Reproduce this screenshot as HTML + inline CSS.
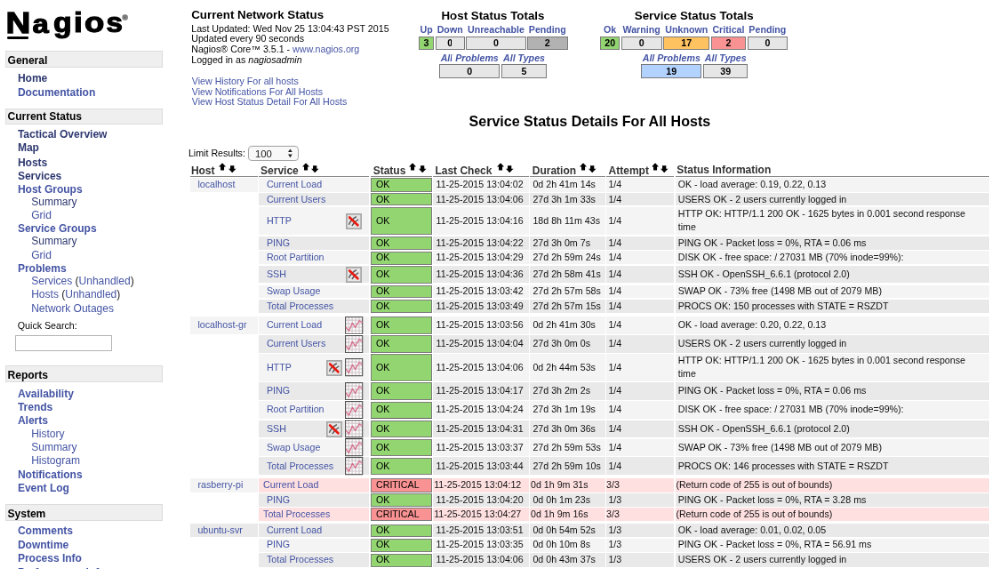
<!DOCTYPE html>
<html><head><meta charset="utf-8"><title>Nagios Core</title>
<style>
html,body{margin:0;padding:0;background:#fff;width:992px;height:569px;overflow:hidden;}
body{position:relative;font-family:"Liberation Sans",sans-serif;}
.t{position:absolute;white-space:nowrap;}
.r{position:absolute;}
.r svg{display:block}
.c{position:absolute;display:flex;align-items:center;white-space:nowrap;font-size:9.481px;line-height:13.600px;}
#w{position:absolute;left:0;top:0;width:1116.00px;height:640.12px;will-change:transform;transform-origin:0 0;transform:scale(0.888889);overflow:hidden;}
#v{position:absolute;left:0;top:0;width:992px;height:569px;zoom:1.125;overflow:hidden;}
</style></head><body><div id="w"><div id="v">
<div class="r" style="white-space:nowrap;left:0;top:0;font-size:100px;line-height:100px;font-weight:bold;color:#000;-webkit-text-stroke:4px #000;transform-origin:0 0;transform:matrix(0.3419,0,0,0.2945,5.690,7.577)">N</div>
<div class="r" style="white-space:nowrap;left:0;top:0;font-size:100px;line-height:100px;font-weight:bold;color:#000;-webkit-text-stroke:4px #000;transform-origin:0 0;transform:matrix(0.2912,0,0,0.2695,32.509,9.885)">a</div>
<div class="r" style="white-space:nowrap;left:0;top:0;font-size:100px;line-height:100px;font-weight:bold;color:#000;-webkit-text-stroke:4px #000;transform-origin:0 0;transform:matrix(0.3000,0,0,0.2759,53.400,9.097)">g</div>
<div class="r" style="white-space:nowrap;left:0;top:0;font-size:100px;line-height:100px;font-weight:bold;color:#000;-webkit-text-stroke:4px #000;transform-origin:0 0;transform:matrix(0.3111,0,0,0.2753,73.844,8.847)">i</div>
<div class="r" style="white-space:nowrap;left:0;top:0;font-size:100px;line-height:100px;font-weight:bold;color:#000;-webkit-text-stroke:4px #000;transform-origin:0 0;transform:matrix(0.3246,0,0,0.2780,84.451,8.939)">o</div>
<div class="r" style="white-space:nowrap;left:0;top:0;font-size:100px;line-height:100px;font-weight:bold;color:#000;-webkit-text-stroke:4px #000;transform-origin:0 0;transform:matrix(0.2942,0,0,0.2729,106.206,9.186)">s</div>
<div class="r" style="left:7.20px;top:36.60px;width:21.10px;height:2.30px;background:#000;border-radius:1.2px;"></div>
<svg class="r" style="left:121.4px;top:13.9px" width="6.4" height="6.2" viewBox="0 0 6.4 6.2"><circle cx="3.2" cy="3.1" r="2.9" fill="#707070"/><circle cx="3.2" cy="3.1" r="2.1" fill="#a8a8a8"/><path d="M2.3 4.6 V1.7 H3.6 Q4.4 1.7 4.4 2.5 Q4.4 3.2 3.6 3.2 H2.3 M3.4 3.2 L4.4 4.6" stroke="#555" stroke-width="0.7" fill="none"/></svg>
<div class="r" style="left:5.00px;top:51.10px;width:158.00px;height:16.80px;background:#efefef;border:1px solid #dcdcdc;box-sizing:border-box;"></div>
<div class="t" style="left:7.60px;top:53.90px;font-size:10.667px;line-height:12.800px;font-weight:bold;color:#000;font-style:normal;">General</div>
<div class="t" style="left:17.70px;top:72.00px;font-size:10.667px;line-height:12.800px;font-weight:bold;color:#2e3870;font-style:normal;">Home</div>
<div class="t" style="left:17.70px;top:86.20px;font-size:10.667px;line-height:12.800px;font-weight:bold;color:#4454a4;font-style:normal;">Documentation</div>
<div class="r" style="left:5.00px;top:108.20px;width:158.00px;height:16.40px;background:#efefef;border:1px solid #dcdcdc;box-sizing:border-box;"></div>
<div class="t" style="left:7.60px;top:110.60px;font-size:10.667px;line-height:12.800px;font-weight:bold;color:#000;font-style:normal;">Current Status</div>
<div class="t" style="left:17.70px;top:128.00px;font-size:10.667px;line-height:12.800px;font-weight:bold;color:#2e3870;font-style:normal;">Tactical Overview</div>
<div class="t" style="left:17.70px;top:141.60px;font-size:10.667px;line-height:12.800px;font-weight:bold;color:#2e3870;font-style:normal;">Map</div>
<div class="t" style="left:17.70px;top:156.00px;font-size:10.667px;line-height:12.800px;font-weight:bold;color:#2e3870;font-style:normal;">Hosts</div>
<div class="t" style="left:17.70px;top:169.60px;font-size:10.667px;line-height:12.800px;font-weight:bold;color:#2e3870;font-style:normal;">Services</div>
<div class="t" style="left:17.70px;top:183.30px;font-size:10.667px;line-height:12.800px;font-weight:bold;color:#4454a4;font-style:normal;">Host Groups</div>
<div class="t" style="left:31.30px;top:195.50px;font-size:10.667px;line-height:12.800px;font-weight:normal;color:#2e3870;font-style:normal;">Summary</div>
<div class="t" style="left:31.30px;top:209.00px;font-size:10.667px;line-height:12.800px;font-weight:normal;color:#4454a4;font-style:normal;">Grid</div>
<div class="t" style="left:17.70px;top:222.20px;font-size:10.667px;line-height:12.800px;font-weight:bold;color:#4454a4;font-style:normal;">Service Groups</div>
<div class="t" style="left:31.30px;top:234.90px;font-size:10.667px;line-height:12.800px;font-weight:normal;color:#2e3870;font-style:normal;">Summary</div>
<div class="t" style="left:31.30px;top:248.60px;font-size:10.667px;line-height:12.800px;font-weight:normal;color:#4454a4;font-style:normal;">Grid</div>
<div class="t" style="left:17.70px;top:262.10px;font-size:10.667px;line-height:12.800px;font-weight:bold;color:#4454a4;font-style:normal;">Problems</div>
<div class="t" style="left:31.30px;top:274.80px;font-size:10.667px;line-height:12.800px;font-weight:normal;color:#4454a4;font-style:normal;">Services <span style="color:#222">(</span>Unhandled<span style="color:#222">)</span></div>
<div class="t" style="left:31.30px;top:288.10px;font-size:10.667px;line-height:12.800px;font-weight:normal;color:#4454a4;font-style:normal;">Hosts <span style="color:#222">(</span>Unhandled<span style="color:#222">)</span></div>
<div class="t" style="left:31.30px;top:302.40px;font-size:10.667px;line-height:12.800px;font-weight:normal;color:#4454a4;font-style:normal;">Network Outages</div>
<div class="t" style="left:17.60px;top:320.13px;font-size:9.481px;line-height:11.377px;font-weight:normal;color:#000;font-style:normal;">Quick Search:</div>
<div class="r" style="left:15.30px;top:335.30px;width:96.30px;height:15.40px;background:#fff;border:1px solid #b4b4b4;box-sizing:border-box;"></div>
<div class="r" style="left:5.00px;top:365.50px;width:158.00px;height:17.10px;background:#efefef;border:1px solid #dcdcdc;box-sizing:border-box;"></div>
<div class="t" style="left:7.60px;top:368.70px;font-size:10.667px;line-height:12.800px;font-weight:bold;color:#000;font-style:normal;">Reports</div>
<div class="t" style="left:17.70px;top:387.80px;font-size:10.667px;line-height:12.800px;font-weight:bold;color:#4454a4;font-style:normal;">Availability</div>
<div class="t" style="left:17.70px;top:401.20px;font-size:10.667px;line-height:12.800px;font-weight:bold;color:#4454a4;font-style:normal;">Trends</div>
<div class="t" style="left:17.70px;top:414.10px;font-size:10.667px;line-height:12.800px;font-weight:bold;color:#4454a4;font-style:normal;">Alerts</div>
<div class="t" style="left:31.30px;top:427.20px;font-size:10.667px;line-height:12.800px;font-weight:normal;color:#4454a4;font-style:normal;">History</div>
<div class="t" style="left:31.30px;top:440.50px;font-size:10.667px;line-height:12.800px;font-weight:normal;color:#4454a4;font-style:normal;">Summary</div>
<div class="t" style="left:31.30px;top:454.40px;font-size:10.667px;line-height:12.800px;font-weight:normal;color:#4454a4;font-style:normal;">Histogram</div>
<div class="t" style="left:17.70px;top:468.30px;font-size:10.667px;line-height:12.800px;font-weight:bold;color:#4454a4;font-style:normal;">Notifications</div>
<div class="t" style="left:17.70px;top:482.10px;font-size:10.667px;line-height:12.800px;font-weight:bold;color:#4454a4;font-style:normal;">Event Log</div>
<div class="r" style="left:5.00px;top:503.90px;width:158.00px;height:16.70px;background:#efefef;border:1px solid #dcdcdc;box-sizing:border-box;"></div>
<div class="t" style="left:7.60px;top:507.30px;font-size:10.667px;line-height:12.800px;font-weight:bold;color:#000;font-style:normal;">System</div>
<div class="t" style="left:17.70px;top:524.30px;font-size:10.667px;line-height:12.800px;font-weight:bold;color:#4454a4;font-style:normal;">Comments</div>
<div class="t" style="left:17.70px;top:538.30px;font-size:10.667px;line-height:12.800px;font-weight:bold;color:#4454a4;font-style:normal;">Downtime</div>
<div class="t" style="left:17.70px;top:552.30px;font-size:10.667px;line-height:12.800px;font-weight:bold;color:#4454a4;font-style:normal;">Process Info</div>
<div class="t" style="left:17.70px;top:566.30px;font-size:10.667px;line-height:12.800px;font-weight:bold;color:#4454a4;font-style:normal;">Performance Info</div>
<div class="t" style="left:191.30px;top:8.38px;font-size:11.852px;line-height:14.222px;font-weight:bold;color:#000;font-style:normal;">Current Network Status</div>
<div class="t" style="left:191.30px;top:22.93px;font-size:9.481px;line-height:11.377px;font-weight:normal;color:#000;font-style:normal;">Last Updated: Wed Nov 25 13:04:43 PST 2015</div>
<div class="t" style="left:191.30px;top:33.33px;font-size:9.481px;line-height:11.377px;font-weight:normal;color:#000;font-style:normal;">Updated every 90 seconds</div>
<div class="t" style="left:191.30px;top:43.73px;font-size:9.481px;line-height:11.377px;font-weight:normal;color:#000;font-style:normal;">Nagios&reg; Core&trade; 3.5.1 - <span style="color:#4454a4">www.nagios.org</span></div>
<div class="t" style="left:191.30px;top:54.13px;font-size:9.481px;line-height:11.377px;font-weight:normal;color:#000;font-style:normal;">Logged in as <i>nagiosadmin</i></div>
<div class="t" style="left:191.80px;top:75.63px;font-size:9.481px;line-height:11.377px;font-weight:normal;color:#4454a4;font-style:normal;">View History For all hosts</div>
<div class="t" style="left:191.80px;top:86.03px;font-size:9.481px;line-height:11.377px;font-weight:normal;color:#4454a4;font-style:normal;">View Notifications For All Hosts</div>
<div class="t" style="left:191.80px;top:96.43px;font-size:9.481px;line-height:11.377px;font-weight:normal;color:#4454a4;font-style:normal;">View Host Status Detail For All Hosts</div>
<div class="t" style="left:441.30px;top:8.68px;font-size:11.852px;line-height:14.222px;font-weight:bold;color:#000;font-style:normal;">Host Status Totals</div>
<div class="t" style="left:419.00px;top:23.83px;width:14.60px;text-align:center;font-size:9.481px;line-height:11.377px;font-weight:bold;color:#4454a4;font-style:normal">Up</div>
<div class="r" style="left:419.00px;top:36.00px;width:14.60px;height:13.70px;background:#93d571;border:1px solid #7a7a7a;box-sizing:border-box;"></div>
<div class="t" style="left:419.00px;top:37.33px;width:14.60px;text-align:center;font-size:9.481px;line-height:11.377px;font-weight:bold;color:#000;font-style:normal">3</div>
<div class="t" style="left:435.20px;top:23.83px;width:29.50px;text-align:center;font-size:9.481px;line-height:11.377px;font-weight:bold;color:#4454a4;font-style:normal">Down</div>
<div class="r" style="left:435.20px;top:36.00px;width:29.50px;height:13.70px;background:#e6e6e6;border:1px solid #7a7a7a;box-sizing:border-box;"></div>
<div class="t" style="left:435.20px;top:37.33px;width:29.50px;text-align:center;font-size:9.481px;line-height:11.377px;font-weight:bold;color:#000;font-style:normal">0</div>
<div class="t" style="left:466.00px;top:23.83px;width:59.90px;text-align:center;font-size:9.481px;line-height:11.377px;font-weight:bold;color:#4454a4;font-style:normal">Unreachable</div>
<div class="r" style="left:466.00px;top:36.00px;width:59.90px;height:13.70px;background:#e6e6e6;border:1px solid #7a7a7a;box-sizing:border-box;"></div>
<div class="t" style="left:466.00px;top:37.33px;width:59.90px;text-align:center;font-size:9.481px;line-height:11.377px;font-weight:bold;color:#000;font-style:normal">0</div>
<div class="t" style="left:527.10px;top:23.83px;width:40.60px;text-align:center;font-size:9.481px;line-height:11.377px;font-weight:bold;color:#4454a4;font-style:normal">Pending</div>
<div class="r" style="left:527.10px;top:36.00px;width:40.60px;height:13.70px;background:#b2b2b2;border:1px solid #7a7a7a;box-sizing:border-box;"></div>
<div class="t" style="left:527.10px;top:37.33px;width:40.60px;text-align:center;font-size:9.481px;line-height:11.377px;font-weight:bold;color:#000;font-style:normal">2</div>
<div class="t" style="left:439.30px;top:52.23px;width:60.50px;text-align:center;font-size:9.481px;line-height:11.377px;font-weight:bold;color:#4454a4;font-style:italic">All Problems</div>
<div class="r" style="left:439.30px;top:64.40px;width:60.50px;height:14.00px;background:#e6e6e6;border:1px solid #7a7a7a;box-sizing:border-box;"></div>
<div class="t" style="left:439.30px;top:66.03px;width:60.50px;text-align:center;font-size:9.481px;line-height:11.377px;font-weight:bold;color:#000;font-style:normal">0</div>
<div class="t" style="left:501.10px;top:52.23px;width:45.80px;text-align:center;font-size:9.481px;line-height:11.377px;font-weight:bold;color:#4454a4;font-style:italic">All Types</div>
<div class="r" style="left:501.10px;top:64.40px;width:45.80px;height:14.00px;background:#e6e6e6;border:1px solid #7a7a7a;box-sizing:border-box;"></div>
<div class="t" style="left:501.10px;top:66.03px;width:45.80px;text-align:center;font-size:9.481px;line-height:11.377px;font-weight:bold;color:#000;font-style:normal">5</div>
<div class="t" style="left:634.50px;top:8.68px;font-size:11.852px;line-height:14.222px;font-weight:bold;color:#000;font-style:normal;">Service Status Totals</div>
<div class="t" style="left:600.30px;top:23.83px;width:19.30px;text-align:center;font-size:9.481px;line-height:11.377px;font-weight:bold;color:#4454a4;font-style:normal">Ok</div>
<div class="r" style="left:600.30px;top:36.00px;width:19.30px;height:13.70px;background:#93d571;border:1px solid #7a7a7a;box-sizing:border-box;"></div>
<div class="t" style="left:600.30px;top:37.33px;width:19.30px;text-align:center;font-size:9.481px;line-height:11.377px;font-weight:bold;color:#000;font-style:normal">20</div>
<div class="t" style="left:621.10px;top:23.83px;width:40.70px;text-align:center;font-size:9.481px;line-height:11.377px;font-weight:bold;color:#4454a4;font-style:normal">Warning</div>
<div class="r" style="left:621.10px;top:36.00px;width:40.70px;height:13.70px;background:#e6e6e6;border:1px solid #7a7a7a;box-sizing:border-box;"></div>
<div class="t" style="left:621.10px;top:37.33px;width:40.70px;text-align:center;font-size:9.481px;line-height:11.377px;font-weight:bold;color:#000;font-style:normal">0</div>
<div class="t" style="left:663.50px;top:23.83px;width:45.90px;text-align:center;font-size:9.481px;line-height:11.377px;font-weight:bold;color:#4454a4;font-style:normal">Unknown</div>
<div class="r" style="left:663.50px;top:36.00px;width:45.90px;height:13.70px;background:#ffc261;border:1px solid #7a7a7a;box-sizing:border-box;"></div>
<div class="t" style="left:663.50px;top:37.33px;width:45.90px;text-align:center;font-size:9.481px;line-height:11.377px;font-weight:bold;color:#000;font-style:normal">17</div>
<div class="t" style="left:711.10px;top:23.83px;width:34.60px;text-align:center;font-size:9.481px;line-height:11.377px;font-weight:bold;color:#4454a4;font-style:normal">Critical</div>
<div class="r" style="left:711.10px;top:36.00px;width:34.60px;height:13.70px;background:#f99292;border:1px solid #7a7a7a;box-sizing:border-box;"></div>
<div class="t" style="left:711.10px;top:37.33px;width:34.60px;text-align:center;font-size:9.481px;line-height:11.377px;font-weight:bold;color:#000;font-style:normal">2</div>
<div class="t" style="left:747.20px;top:23.83px;width:40.50px;text-align:center;font-size:9.481px;line-height:11.377px;font-weight:bold;color:#4454a4;font-style:normal">Pending</div>
<div class="r" style="left:747.20px;top:36.00px;width:40.50px;height:13.70px;background:#e6e6e6;border:1px solid #7a7a7a;box-sizing:border-box;"></div>
<div class="t" style="left:747.20px;top:37.33px;width:40.50px;text-align:center;font-size:9.481px;line-height:11.377px;font-weight:bold;color:#000;font-style:normal">0</div>
<div class="t" style="left:641.10px;top:52.23px;width:60.50px;text-align:center;font-size:9.481px;line-height:11.377px;font-weight:bold;color:#4454a4;font-style:italic">All Problems</div>
<div class="r" style="left:641.10px;top:64.40px;width:60.50px;height:14.00px;background:#b2d2ff;border:1px solid #7a7a7a;box-sizing:border-box;"></div>
<div class="t" style="left:641.10px;top:66.03px;width:60.50px;text-align:center;font-size:9.481px;line-height:11.377px;font-weight:bold;color:#000;font-style:normal">19</div>
<div class="t" style="left:703.30px;top:52.23px;width:44.50px;text-align:center;font-size:9.481px;line-height:11.377px;font-weight:bold;color:#4454a4;font-style:italic">All Types</div>
<div class="r" style="left:703.30px;top:64.40px;width:44.50px;height:14.00px;background:#e6e6e6;border:1px solid #7a7a7a;box-sizing:border-box;"></div>
<div class="t" style="left:703.30px;top:66.03px;width:44.50px;text-align:center;font-size:9.481px;line-height:11.377px;font-weight:bold;color:#000;font-style:normal">39</div>
<div class="t" style="left:468.90px;top:112.67px;font-size:14.293px;line-height:17.152px;font-weight:bold;color:#000;font-style:normal;">Service Status Details For All Hosts</div>
<div class="t" style="left:188.40px;top:147.78px;font-size:9.481px;line-height:11.377px;font-weight:normal;color:#000;font-style:normal;">Limit Results:</div>
<div class="r" style="left:248.10px;top:146.00px;width:50.60px;height:14.80px;background:#f8f8f8;border:1px solid #a8a8a8;box-sizing:border-box;border-radius:3.5px;"></div>
<div class="t" style="left:255.10px;top:148.16px;font-size:10.081px;line-height:12.097px;font-weight:normal;color:#222;font-style:normal;">100</div>
<svg class="r" style="left:287.5px;top:148.5px" width="6" height="10" viewBox="0 0 6 10"><path d="M0.9 3.6 L3 0.4 L5.1 3.6 Z M0.9 5.7 L3 9.2 L5.1 5.7 Z" fill="#222"/></svg>
<div class="t" style="left:191.00px;top:164.00px;font-size:10.667px;line-height:12.800px;font-weight:bold;color:#333;font-style:normal;">Host</div>
<div class="r" style="left:189.80px;top:175.90px;width:67.80px;height:1.10px;background:#8a8a8a;"></div>
<svg class="r" style="left:219.00px;top:162.6px" width="8" height="8" viewBox="0 0 8 8"><path d="M3.6 0.2 L7.2 4.0 L5.4 4.0 L5.4 7.6 L1.8 7.6 L1.8 4.0 L0 4.0 Z" fill="#000"/></svg>
<svg class="r" style="left:228.10px;top:165.2px" width="8" height="8" viewBox="0 0 8 8"><path d="M1.8 0.2 L5.6 0.2 L5.6 3.3 L7.6 3.3 L3.7 7.4 L0 3.3 L1.8 3.3 Z" fill="#000"/></svg>
<div class="t" style="left:260.50px;top:164.00px;font-size:10.667px;line-height:12.800px;font-weight:bold;color:#333;font-style:normal;">Service</div>
<div class="r" style="left:258.90px;top:175.90px;width:110.40px;height:1.10px;background:#8a8a8a;"></div>
<svg class="r" style="left:302.00px;top:162.6px" width="8" height="8" viewBox="0 0 8 8"><path d="M3.6 0.2 L7.2 4.0 L5.4 4.0 L5.4 7.6 L1.8 7.6 L1.8 4.0 L0 4.0 Z" fill="#000"/></svg>
<svg class="r" style="left:311.10px;top:165.2px" width="8" height="8" viewBox="0 0 8 8"><path d="M1.8 0.2 L5.6 0.2 L5.6 3.3 L7.6 3.3 L3.7 7.4 L0 3.3 L1.8 3.3 Z" fill="#000"/></svg>
<div class="t" style="left:373.00px;top:164.00px;font-size:10.667px;line-height:12.800px;font-weight:bold;color:#333;font-style:normal;">Status</div>
<div class="r" style="left:371.10px;top:175.90px;width:60.90px;height:1.10px;background:#8a8a8a;"></div>
<svg class="r" style="left:409.30px;top:162.6px" width="8" height="8" viewBox="0 0 8 8"><path d="M3.6 0.2 L7.2 4.0 L5.4 4.0 L5.4 7.6 L1.8 7.6 L1.8 4.0 L0 4.0 Z" fill="#000"/></svg>
<svg class="r" style="left:418.40px;top:165.2px" width="8" height="8" viewBox="0 0 8 8"><path d="M1.8 0.2 L5.6 0.2 L5.6 3.3 L7.6 3.3 L3.7 7.4 L0 3.3 L1.8 3.3 Z" fill="#000"/></svg>
<div class="t" style="left:435.00px;top:164.00px;font-size:10.667px;line-height:12.800px;font-weight:bold;color:#333;font-style:normal;">Last Check</div>
<div class="r" style="left:433.00px;top:175.90px;width:95.80px;height:1.10px;background:#8a8a8a;"></div>
<svg class="r" style="left:496.50px;top:162.6px" width="8" height="8" viewBox="0 0 8 8"><path d="M3.6 0.2 L7.2 4.0 L5.4 4.0 L5.4 7.6 L1.8 7.6 L1.8 4.0 L0 4.0 Z" fill="#000"/></svg>
<svg class="r" style="left:505.60px;top:165.2px" width="8" height="8" viewBox="0 0 8 8"><path d="M1.8 0.2 L5.6 0.2 L5.6 3.3 L7.6 3.3 L3.7 7.4 L0 3.3 L1.8 3.3 Z" fill="#000"/></svg>
<div class="t" style="left:532.20px;top:164.00px;font-size:10.667px;line-height:12.800px;font-weight:bold;color:#333;font-style:normal;">Duration</div>
<div class="r" style="left:530.20px;top:175.90px;width:74.80px;height:1.10px;background:#8a8a8a;"></div>
<svg class="r" style="left:579.20px;top:162.6px" width="8" height="8" viewBox="0 0 8 8"><path d="M3.6 0.2 L7.2 4.0 L5.4 4.0 L5.4 7.6 L1.8 7.6 L1.8 4.0 L0 4.0 Z" fill="#000"/></svg>
<svg class="r" style="left:588.30px;top:165.2px" width="8" height="8" viewBox="0 0 8 8"><path d="M1.8 0.2 L5.6 0.2 L5.6 3.3 L7.6 3.3 L3.7 7.4 L0 3.3 L1.8 3.3 Z" fill="#000"/></svg>
<div class="t" style="left:608.50px;top:164.00px;font-size:10.667px;line-height:12.800px;font-weight:bold;color:#333;font-style:normal;">Attempt</div>
<div class="r" style="left:606.40px;top:175.90px;width:67.60px;height:1.10px;background:#8a8a8a;"></div>
<svg class="r" style="left:651.40px;top:162.6px" width="8" height="8" viewBox="0 0 8 8"><path d="M3.6 0.2 L7.2 4.0 L5.4 4.0 L5.4 7.6 L1.8 7.6 L1.8 4.0 L0 4.0 Z" fill="#000"/></svg>
<svg class="r" style="left:660.50px;top:165.2px" width="8" height="8" viewBox="0 0 8 8"><path d="M1.8 0.2 L5.6 0.2 L5.6 3.3 L7.6 3.3 L3.7 7.4 L0 3.3 L1.8 3.3 Z" fill="#000"/></svg>
<div class="t" style="left:676.70px;top:163.15px;font-size:10.667px;line-height:12.800px;font-weight:bold;color:#333;font-style:normal;">Status Information</div>
<div class="r" style="left:675.20px;top:175.90px;width:314.00px;height:1.10px;background:#8a8a8a;"></div>
<div class="r" style="left:189.80px;top:177.70px;width:67.80px;height:13.90px;background:#f4f4f4;"></div>
<div class="c" style="left:197.70px;top:177.70px;height:13.90px;color:#4454a4">localhost</div>
<div class="r" style="left:258.90px;top:177.70px;width:110.40px;height:13.90px;background:#f4f4f4;"></div>
<div class="c" style="left:266.60px;top:177.70px;height:13.90px;color:#4454a4">Current Load</div>
<div class="r" style="left:371.10px;top:177.90px;width:60.90px;height:13.80px;background:#93d571;border:1px solid #7d7d7d;box-sizing:border-box;"></div>
<div class="c" style="left:376.00px;top:177.70px;height:13.90px;color:#000">OK</div>
<div class="r" style="left:433.00px;top:177.70px;width:95.80px;height:13.90px;background:#f4f4f4;"></div>
<div class="c" style="left:436.00px;top:177.70px;height:13.90px;color:#111">11-25-2015 13:04:02</div>
<div class="r" style="left:530.20px;top:177.70px;width:74.80px;height:13.90px;background:#f4f4f4;"></div>
<div class="c" style="left:532.80px;top:177.70px;height:13.90px;color:#111">0d 2h 41m 14s</div>
<div class="r" style="left:606.40px;top:177.70px;width:67.60px;height:13.90px;background:#f4f4f4;"></div>
<div class="c" style="left:608.40px;top:177.70px;height:13.90px;color:#111">1/4</div>
<div class="r" style="left:675.20px;top:177.70px;width:314.00px;height:13.90px;background:#f4f4f4;"></div>
<div class="c" style="left:678.00px;top:177.70px;height:13.90px;color:#111">OK - load average: 0.19, 0.22, 0.13</div>
<div class="r" style="left:258.90px;top:193.10px;width:110.40px;height:12.50px;background:#e9e9e9;"></div>
<div class="c" style="left:266.60px;top:193.10px;height:12.50px;color:#4454a4">Current Users</div>
<div class="r" style="left:371.10px;top:193.30px;width:60.90px;height:12.40px;background:#93d571;border:1px solid #7d7d7d;box-sizing:border-box;"></div>
<div class="c" style="left:376.00px;top:193.10px;height:12.50px;color:#000">OK</div>
<div class="r" style="left:433.00px;top:193.10px;width:95.80px;height:12.50px;background:#e9e9e9;"></div>
<div class="c" style="left:436.00px;top:193.10px;height:12.50px;color:#111">11-25-2015 13:04:06</div>
<div class="r" style="left:530.20px;top:193.10px;width:74.80px;height:12.50px;background:#e9e9e9;"></div>
<div class="c" style="left:532.80px;top:193.10px;height:12.50px;color:#111">27d 3h 1m 33s</div>
<div class="r" style="left:606.40px;top:193.10px;width:67.60px;height:12.50px;background:#e9e9e9;"></div>
<div class="c" style="left:608.40px;top:193.10px;height:12.50px;color:#111">1/4</div>
<div class="r" style="left:675.20px;top:193.10px;width:314.00px;height:12.50px;background:#e9e9e9;"></div>
<div class="c" style="left:678.00px;top:193.10px;height:12.50px;color:#111">USERS OK - 2 users currently logged in</div>
<div class="r" style="left:258.90px;top:206.90px;width:110.40px;height:27.70px;background:#f4f4f4;"></div>
<div class="c" style="left:266.60px;top:206.90px;height:27.70px;color:#4454a4">HTTP</div>
<div class="r" style="left:346.2px;top:213.30px;width:16px;height:16px"><svg width="16" height="16" viewBox="0 0 16 16"><rect x="0.75" y="0.75" width="14.5" height="14.5" fill="#e4e4e4" stroke="#a2a2a2" stroke-width="1.4"/><path d="M3.1 11.4 Q4.6 6.6 10.5 3.2 M6.2 12.4 Q8.2 8.4 12.6 6.0" stroke="#222" stroke-width="1.25" fill="none" opacity="0.75"/><path d="M3.7 4.0 L11.9 11.8" stroke="#ea1a10" stroke-width="2.4" stroke-linecap="round"/></svg></div>
<div class="r" style="left:371.10px;top:207.10px;width:60.90px;height:27.60px;background:#93d571;border:1px solid #7d7d7d;box-sizing:border-box;"></div>
<div class="c" style="left:376.00px;top:206.90px;height:27.70px;color:#000">OK</div>
<div class="r" style="left:433.00px;top:206.90px;width:95.80px;height:27.70px;background:#f4f4f4;"></div>
<div class="c" style="left:436.00px;top:206.90px;height:27.70px;color:#111">11-25-2015 13:04:16</div>
<div class="r" style="left:530.20px;top:206.90px;width:74.80px;height:27.70px;background:#f4f4f4;"></div>
<div class="c" style="left:532.80px;top:206.90px;height:27.70px;color:#111">18d 8h 11m 43s</div>
<div class="r" style="left:606.40px;top:206.90px;width:67.60px;height:27.70px;background:#f4f4f4;"></div>
<div class="c" style="left:608.40px;top:206.90px;height:27.70px;color:#111">1/4</div>
<div class="r" style="left:675.20px;top:206.90px;width:314.00px;height:27.70px;background:#f4f4f4;"></div>
<div class="c" style="left:678.00px;top:206.90px;height:27.70px;color:#111">HTTP OK: HTTP/1.1 200 OK - 1625 bytes in 0.001 second response<br>time</div>
<div class="r" style="left:258.90px;top:236.40px;width:110.40px;height:13.30px;background:#e9e9e9;"></div>
<div class="c" style="left:266.60px;top:236.40px;height:13.30px;color:#4454a4">PING</div>
<div class="r" style="left:371.10px;top:236.60px;width:60.90px;height:13.20px;background:#93d571;border:1px solid #7d7d7d;box-sizing:border-box;"></div>
<div class="c" style="left:376.00px;top:236.40px;height:13.30px;color:#000">OK</div>
<div class="r" style="left:433.00px;top:236.40px;width:95.80px;height:13.30px;background:#e9e9e9;"></div>
<div class="c" style="left:436.00px;top:236.40px;height:13.30px;color:#111">11-25-2015 13:04:22</div>
<div class="r" style="left:530.20px;top:236.40px;width:74.80px;height:13.30px;background:#e9e9e9;"></div>
<div class="c" style="left:532.80px;top:236.40px;height:13.30px;color:#111">27d 3h 0m 7s</div>
<div class="r" style="left:606.40px;top:236.40px;width:67.60px;height:13.30px;background:#e9e9e9;"></div>
<div class="c" style="left:608.40px;top:236.40px;height:13.30px;color:#111">1/4</div>
<div class="r" style="left:675.20px;top:236.40px;width:314.00px;height:13.30px;background:#e9e9e9;"></div>
<div class="c" style="left:678.00px;top:236.40px;height:13.30px;color:#111">PING OK - Packet loss = 0%, RTA = 0.06 ms</div>
<div class="r" style="left:258.90px;top:251.00px;width:110.40px;height:13.40px;background:#f4f4f4;"></div>
<div class="c" style="left:266.60px;top:251.00px;height:13.40px;color:#4454a4">Root Partition</div>
<div class="r" style="left:371.10px;top:251.20px;width:60.90px;height:13.30px;background:#93d571;border:1px solid #7d7d7d;box-sizing:border-box;"></div>
<div class="c" style="left:376.00px;top:251.00px;height:13.40px;color:#000">OK</div>
<div class="r" style="left:433.00px;top:251.00px;width:95.80px;height:13.40px;background:#f4f4f4;"></div>
<div class="c" style="left:436.00px;top:251.00px;height:13.40px;color:#111">11-25-2015 13:04:29</div>
<div class="r" style="left:530.20px;top:251.00px;width:74.80px;height:13.40px;background:#f4f4f4;"></div>
<div class="c" style="left:532.80px;top:251.00px;height:13.40px;color:#111">27d 2h 59m 24s</div>
<div class="r" style="left:606.40px;top:251.00px;width:67.60px;height:13.40px;background:#f4f4f4;"></div>
<div class="c" style="left:608.40px;top:251.00px;height:13.40px;color:#111">1/4</div>
<div class="r" style="left:675.20px;top:251.00px;width:314.00px;height:13.40px;background:#f4f4f4;"></div>
<div class="c" style="left:678.00px;top:251.00px;height:13.40px;color:#111">DISK OK - free space: / 27031 MB (70% inode=99%):</div>
<div class="r" style="left:258.90px;top:265.80px;width:110.40px;height:17.30px;background:#e9e9e9;"></div>
<div class="c" style="left:266.60px;top:265.80px;height:17.30px;color:#4454a4">SSH</div>
<div class="r" style="left:346.2px;top:267.00px;width:16px;height:16px"><svg width="16" height="16" viewBox="0 0 16 16"><rect x="0.75" y="0.75" width="14.5" height="14.5" fill="#e4e4e4" stroke="#a2a2a2" stroke-width="1.4"/><path d="M3.1 11.4 Q4.6 6.6 10.5 3.2 M6.2 12.4 Q8.2 8.4 12.6 6.0" stroke="#222" stroke-width="1.25" fill="none" opacity="0.75"/><path d="M3.7 4.0 L11.9 11.8" stroke="#ea1a10" stroke-width="2.4" stroke-linecap="round"/></svg></div>
<div class="r" style="left:371.10px;top:266.00px;width:60.90px;height:17.20px;background:#93d571;border:1px solid #7d7d7d;box-sizing:border-box;"></div>
<div class="c" style="left:376.00px;top:265.80px;height:17.30px;color:#000">OK</div>
<div class="r" style="left:433.00px;top:265.80px;width:95.80px;height:17.30px;background:#e9e9e9;"></div>
<div class="c" style="left:436.00px;top:265.80px;height:17.30px;color:#111">11-25-2015 13:04:36</div>
<div class="r" style="left:530.20px;top:265.80px;width:74.80px;height:17.30px;background:#e9e9e9;"></div>
<div class="c" style="left:532.80px;top:265.80px;height:17.30px;color:#111">27d 2h 58m 41s</div>
<div class="r" style="left:606.40px;top:265.80px;width:67.60px;height:17.30px;background:#e9e9e9;"></div>
<div class="c" style="left:608.40px;top:265.80px;height:17.30px;color:#111">1/4</div>
<div class="r" style="left:675.20px;top:265.80px;width:314.00px;height:17.30px;background:#e9e9e9;"></div>
<div class="c" style="left:678.00px;top:265.80px;height:17.30px;color:#111">SSH OK - OpenSSH_6.6.1 (protocol 2.0)</div>
<div class="r" style="left:258.90px;top:284.90px;width:110.40px;height:12.70px;background:#f4f4f4;"></div>
<div class="c" style="left:266.60px;top:284.90px;height:12.70px;color:#4454a4">Swap Usage</div>
<div class="r" style="left:371.10px;top:285.10px;width:60.90px;height:12.60px;background:#93d571;border:1px solid #7d7d7d;box-sizing:border-box;"></div>
<div class="c" style="left:376.00px;top:284.90px;height:12.70px;color:#000">OK</div>
<div class="r" style="left:433.00px;top:284.90px;width:95.80px;height:12.70px;background:#f4f4f4;"></div>
<div class="c" style="left:436.00px;top:284.90px;height:12.70px;color:#111">11-25-2015 13:03:42</div>
<div class="r" style="left:530.20px;top:284.90px;width:74.80px;height:12.70px;background:#f4f4f4;"></div>
<div class="c" style="left:532.80px;top:284.90px;height:12.70px;color:#111">27d 2h 57m 58s</div>
<div class="r" style="left:606.40px;top:284.90px;width:67.60px;height:12.70px;background:#f4f4f4;"></div>
<div class="c" style="left:608.40px;top:284.90px;height:12.70px;color:#111">1/4</div>
<div class="r" style="left:675.20px;top:284.90px;width:314.00px;height:12.70px;background:#f4f4f4;"></div>
<div class="c" style="left:678.00px;top:284.90px;height:12.70px;color:#111">SWAP OK - 73% free (1498 MB out of 2079 MB)</div>
<div class="r" style="left:258.90px;top:299.30px;width:110.40px;height:13.70px;background:#e9e9e9;"></div>
<div class="c" style="left:266.60px;top:299.30px;height:13.70px;color:#4454a4">Total Processes</div>
<div class="r" style="left:371.10px;top:299.50px;width:60.90px;height:13.60px;background:#93d571;border:1px solid #7d7d7d;box-sizing:border-box;"></div>
<div class="c" style="left:376.00px;top:299.30px;height:13.70px;color:#000">OK</div>
<div class="r" style="left:433.00px;top:299.30px;width:95.80px;height:13.70px;background:#e9e9e9;"></div>
<div class="c" style="left:436.00px;top:299.30px;height:13.70px;color:#111">11-25-2015 13:03:49</div>
<div class="r" style="left:530.20px;top:299.30px;width:74.80px;height:13.70px;background:#e9e9e9;"></div>
<div class="c" style="left:532.80px;top:299.30px;height:13.70px;color:#111">27d 2h 57m 15s</div>
<div class="r" style="left:606.40px;top:299.30px;width:67.60px;height:13.70px;background:#e9e9e9;"></div>
<div class="c" style="left:608.40px;top:299.30px;height:13.70px;color:#111">1/4</div>
<div class="r" style="left:675.20px;top:299.30px;width:314.00px;height:13.70px;background:#e9e9e9;"></div>
<div class="c" style="left:678.00px;top:299.30px;height:13.70px;color:#111">PROCS OK: 150 processes with STATE = RSZDT</div>
<div class="r" style="left:189.80px;top:316.00px;width:67.80px;height:17.90px;background:#f4f4f4;"></div>
<div class="c" style="left:197.70px;top:316.00px;height:17.90px;color:#4454a4">localhost-gr</div>
<div class="r" style="left:258.90px;top:316.00px;width:110.40px;height:17.90px;background:#f4f4f4;"></div>
<div class="c" style="left:266.60px;top:316.00px;height:17.90px;color:#4454a4">Current Load</div>
<div class="r" style="left:345.2px;top:316.05px;width:18px;height:18px"><svg width="18" height="18" viewBox="0 0 18 18"><rect x="0" y="0" width="18" height="18" fill="#fcfcfc"/><path d="M3.7 0 V18 M7.2 0 V18 M10.7 0 V18 M14.2 0 V18 M0 3.7 H18 M0 7.2 H18 M0 10.7 H18 M0 14.2 H18" stroke="#d2c6cc" stroke-width="1"/><rect x="0.5" y="0.5" width="17" height="17" fill="none" stroke="#505050"/><path d="M0.8 10.7 L4.1 14.3 L7.4 6.6 L10.3 10.9 L14.3 4.3 L17.4 6.2" stroke="#d25a7a" stroke-width="1.2" fill="none" stroke-linejoin="round" opacity="0.85"/></svg></div>
<div class="r" style="left:371.10px;top:316.20px;width:60.90px;height:17.80px;background:#93d571;border:1px solid #7d7d7d;box-sizing:border-box;"></div>
<div class="c" style="left:376.00px;top:316.00px;height:17.90px;color:#000">OK</div>
<div class="r" style="left:433.00px;top:316.00px;width:95.80px;height:17.90px;background:#f4f4f4;"></div>
<div class="c" style="left:436.00px;top:316.00px;height:17.90px;color:#111">11-25-2015 13:03:56</div>
<div class="r" style="left:530.20px;top:316.00px;width:74.80px;height:17.90px;background:#f4f4f4;"></div>
<div class="c" style="left:532.80px;top:316.00px;height:17.90px;color:#111">0d 2h 41m 30s</div>
<div class="r" style="left:606.40px;top:316.00px;width:67.60px;height:17.90px;background:#f4f4f4;"></div>
<div class="c" style="left:608.40px;top:316.00px;height:17.90px;color:#111">1/4</div>
<div class="r" style="left:675.20px;top:316.00px;width:314.00px;height:17.90px;background:#f4f4f4;"></div>
<div class="c" style="left:678.00px;top:316.00px;height:17.90px;color:#111">OK - load average: 0.20, 0.22, 0.13</div>
<div class="r" style="left:258.90px;top:334.90px;width:110.40px;height:17.80px;background:#e9e9e9;"></div>
<div class="c" style="left:266.60px;top:334.90px;height:17.80px;color:#4454a4">Current Users</div>
<div class="r" style="left:345.2px;top:334.90px;width:18px;height:18px"><svg width="18" height="18" viewBox="0 0 18 18"><rect x="0" y="0" width="18" height="18" fill="#fcfcfc"/><path d="M3.7 0 V18 M7.2 0 V18 M10.7 0 V18 M14.2 0 V18 M0 3.7 H18 M0 7.2 H18 M0 10.7 H18 M0 14.2 H18" stroke="#d2c6cc" stroke-width="1"/><rect x="0.5" y="0.5" width="17" height="17" fill="none" stroke="#505050"/><path d="M0.8 10.7 L4.1 14.3 L7.4 6.6 L10.3 10.9 L14.3 4.3 L17.4 6.2" stroke="#d25a7a" stroke-width="1.2" fill="none" stroke-linejoin="round" opacity="0.85"/></svg></div>
<div class="r" style="left:371.10px;top:335.10px;width:60.90px;height:17.70px;background:#93d571;border:1px solid #7d7d7d;box-sizing:border-box;"></div>
<div class="c" style="left:376.00px;top:334.90px;height:17.80px;color:#000">OK</div>
<div class="r" style="left:433.00px;top:334.90px;width:95.80px;height:17.80px;background:#e9e9e9;"></div>
<div class="c" style="left:436.00px;top:334.90px;height:17.80px;color:#111">11-25-2015 13:04:04</div>
<div class="r" style="left:530.20px;top:334.90px;width:74.80px;height:17.80px;background:#e9e9e9;"></div>
<div class="c" style="left:532.80px;top:334.90px;height:17.80px;color:#111">27d 3h 0m 0s</div>
<div class="r" style="left:606.40px;top:334.90px;width:67.60px;height:17.80px;background:#e9e9e9;"></div>
<div class="c" style="left:608.40px;top:334.90px;height:17.80px;color:#111">1/4</div>
<div class="r" style="left:675.20px;top:334.90px;width:314.00px;height:17.80px;background:#e9e9e9;"></div>
<div class="c" style="left:678.00px;top:334.90px;height:17.80px;color:#111">USERS OK - 2 users currently logged in</div>
<div class="r" style="left:258.90px;top:353.80px;width:110.40px;height:27.20px;background:#f4f4f4;"></div>
<div class="c" style="left:266.60px;top:353.80px;height:27.20px;color:#4454a4">HTTP</div>
<div class="r" style="left:345.2px;top:358.50px;width:18px;height:18px"><svg width="18" height="18" viewBox="0 0 18 18"><rect x="0" y="0" width="18" height="18" fill="#fcfcfc"/><path d="M3.7 0 V18 M7.2 0 V18 M10.7 0 V18 M14.2 0 V18 M0 3.7 H18 M0 7.2 H18 M0 10.7 H18 M0 14.2 H18" stroke="#d2c6cc" stroke-width="1"/><rect x="0.5" y="0.5" width="17" height="17" fill="none" stroke="#505050"/><path d="M0.8 10.7 L4.1 14.3 L7.4 6.6 L10.3 10.9 L14.3 4.3 L17.4 6.2" stroke="#d25a7a" stroke-width="1.2" fill="none" stroke-linejoin="round" opacity="0.85"/></svg></div>
<div class="r" style="left:326px;top:359.95px;width:16px;height:16px"><svg width="16" height="16" viewBox="0 0 16 16"><rect x="0.75" y="0.75" width="14.5" height="14.5" fill="#e4e4e4" stroke="#a2a2a2" stroke-width="1.4"/><path d="M3.1 11.4 Q4.6 6.6 10.5 3.2 M6.2 12.4 Q8.2 8.4 12.6 6.0" stroke="#222" stroke-width="1.25" fill="none" opacity="0.75"/><path d="M3.7 4.0 L11.9 11.8" stroke="#ea1a10" stroke-width="2.4" stroke-linecap="round"/></svg></div>
<div class="r" style="left:371.10px;top:354.00px;width:60.90px;height:27.10px;background:#93d571;border:1px solid #7d7d7d;box-sizing:border-box;"></div>
<div class="c" style="left:376.00px;top:353.80px;height:27.20px;color:#000">OK</div>
<div class="r" style="left:433.00px;top:353.80px;width:95.80px;height:27.20px;background:#f4f4f4;"></div>
<div class="c" style="left:436.00px;top:353.80px;height:27.20px;color:#111">11-25-2015 13:04:06</div>
<div class="r" style="left:530.20px;top:353.80px;width:74.80px;height:27.20px;background:#f4f4f4;"></div>
<div class="c" style="left:532.80px;top:353.80px;height:27.20px;color:#111">0d 2h 44m 53s</div>
<div class="r" style="left:606.40px;top:353.80px;width:67.60px;height:27.20px;background:#f4f4f4;"></div>
<div class="c" style="left:608.40px;top:353.80px;height:27.20px;color:#111">1/4</div>
<div class="r" style="left:675.20px;top:353.80px;width:314.00px;height:27.20px;background:#f4f4f4;"></div>
<div class="c" style="left:678.00px;top:353.80px;height:27.20px;color:#111">HTTP OK: HTTP/1.1 200 OK - 1625 bytes in 0.001 second response<br>time</div>
<div class="r" style="left:258.90px;top:382.00px;width:110.40px;height:17.80px;background:#e9e9e9;"></div>
<div class="c" style="left:266.60px;top:382.00px;height:17.80px;color:#4454a4">PING</div>
<div class="r" style="left:345.2px;top:382.00px;width:18px;height:18px"><svg width="18" height="18" viewBox="0 0 18 18"><rect x="0" y="0" width="18" height="18" fill="#fcfcfc"/><path d="M3.7 0 V18 M7.2 0 V18 M10.7 0 V18 M14.2 0 V18 M0 3.7 H18 M0 7.2 H18 M0 10.7 H18 M0 14.2 H18" stroke="#d2c6cc" stroke-width="1"/><rect x="0.5" y="0.5" width="17" height="17" fill="none" stroke="#505050"/><path d="M0.8 10.7 L4.1 14.3 L7.4 6.6 L10.3 10.9 L14.3 4.3 L17.4 6.2" stroke="#d25a7a" stroke-width="1.2" fill="none" stroke-linejoin="round" opacity="0.85"/></svg></div>
<div class="r" style="left:371.10px;top:382.20px;width:60.90px;height:17.70px;background:#93d571;border:1px solid #7d7d7d;box-sizing:border-box;"></div>
<div class="c" style="left:376.00px;top:382.00px;height:17.80px;color:#000">OK</div>
<div class="r" style="left:433.00px;top:382.00px;width:95.80px;height:17.80px;background:#e9e9e9;"></div>
<div class="c" style="left:436.00px;top:382.00px;height:17.80px;color:#111">11-25-2015 13:04:17</div>
<div class="r" style="left:530.20px;top:382.00px;width:74.80px;height:17.80px;background:#e9e9e9;"></div>
<div class="c" style="left:532.80px;top:382.00px;height:17.80px;color:#111">27d 3h 2m 2s</div>
<div class="r" style="left:606.40px;top:382.00px;width:67.60px;height:17.80px;background:#e9e9e9;"></div>
<div class="c" style="left:608.40px;top:382.00px;height:17.80px;color:#111">1/4</div>
<div class="r" style="left:675.20px;top:382.00px;width:314.00px;height:17.80px;background:#e9e9e9;"></div>
<div class="c" style="left:678.00px;top:382.00px;height:17.80px;color:#111">PING OK - Packet loss = 0%, RTA = 0.06 ms</div>
<div class="r" style="left:258.90px;top:401.20px;width:110.40px;height:17.30px;background:#f4f4f4;"></div>
<div class="c" style="left:266.60px;top:401.20px;height:17.30px;color:#4454a4">Root Partition</div>
<div class="r" style="left:345.2px;top:400.95px;width:18px;height:18px"><svg width="18" height="18" viewBox="0 0 18 18"><rect x="0" y="0" width="18" height="18" fill="#fcfcfc"/><path d="M3.7 0 V18 M7.2 0 V18 M10.7 0 V18 M14.2 0 V18 M0 3.7 H18 M0 7.2 H18 M0 10.7 H18 M0 14.2 H18" stroke="#d2c6cc" stroke-width="1"/><rect x="0.5" y="0.5" width="17" height="17" fill="none" stroke="#505050"/><path d="M0.8 10.7 L4.1 14.3 L7.4 6.6 L10.3 10.9 L14.3 4.3 L17.4 6.2" stroke="#d25a7a" stroke-width="1.2" fill="none" stroke-linejoin="round" opacity="0.85"/></svg></div>
<div class="r" style="left:371.10px;top:401.40px;width:60.90px;height:17.20px;background:#93d571;border:1px solid #7d7d7d;box-sizing:border-box;"></div>
<div class="c" style="left:376.00px;top:401.20px;height:17.30px;color:#000">OK</div>
<div class="r" style="left:433.00px;top:401.20px;width:95.80px;height:17.30px;background:#f4f4f4;"></div>
<div class="c" style="left:436.00px;top:401.20px;height:17.30px;color:#111">11-25-2015 13:04:24</div>
<div class="r" style="left:530.20px;top:401.20px;width:74.80px;height:17.30px;background:#f4f4f4;"></div>
<div class="c" style="left:532.80px;top:401.20px;height:17.30px;color:#111">27d 3h 1m 19s</div>
<div class="r" style="left:606.40px;top:401.20px;width:67.60px;height:17.30px;background:#f4f4f4;"></div>
<div class="c" style="left:608.40px;top:401.20px;height:17.30px;color:#111">1/4</div>
<div class="r" style="left:675.20px;top:401.20px;width:314.00px;height:17.30px;background:#f4f4f4;"></div>
<div class="c" style="left:678.00px;top:401.20px;height:17.30px;color:#111">DISK OK - free space: / 27031 MB (70% inode=99%):</div>
<div class="r" style="left:258.90px;top:420.30px;width:110.40px;height:17.10px;background:#e9e9e9;"></div>
<div class="c" style="left:266.60px;top:420.30px;height:17.10px;color:#4454a4">SSH</div>
<div class="r" style="left:345.2px;top:419.95px;width:18px;height:18px"><svg width="18" height="18" viewBox="0 0 18 18"><rect x="0" y="0" width="18" height="18" fill="#fcfcfc"/><path d="M3.7 0 V18 M7.2 0 V18 M10.7 0 V18 M14.2 0 V18 M0 3.7 H18 M0 7.2 H18 M0 10.7 H18 M0 14.2 H18" stroke="#d2c6cc" stroke-width="1"/><rect x="0.5" y="0.5" width="17" height="17" fill="none" stroke="#505050"/><path d="M0.8 10.7 L4.1 14.3 L7.4 6.6 L10.3 10.9 L14.3 4.3 L17.4 6.2" stroke="#d25a7a" stroke-width="1.2" fill="none" stroke-linejoin="round" opacity="0.85"/></svg></div>
<div class="r" style="left:326px;top:421.40px;width:16px;height:16px"><svg width="16" height="16" viewBox="0 0 16 16"><rect x="0.75" y="0.75" width="14.5" height="14.5" fill="#e4e4e4" stroke="#a2a2a2" stroke-width="1.4"/><path d="M3.1 11.4 Q4.6 6.6 10.5 3.2 M6.2 12.4 Q8.2 8.4 12.6 6.0" stroke="#222" stroke-width="1.25" fill="none" opacity="0.75"/><path d="M3.7 4.0 L11.9 11.8" stroke="#ea1a10" stroke-width="2.4" stroke-linecap="round"/></svg></div>
<div class="r" style="left:371.10px;top:420.50px;width:60.90px;height:17.00px;background:#93d571;border:1px solid #7d7d7d;box-sizing:border-box;"></div>
<div class="c" style="left:376.00px;top:420.30px;height:17.10px;color:#000">OK</div>
<div class="r" style="left:433.00px;top:420.30px;width:95.80px;height:17.10px;background:#e9e9e9;"></div>
<div class="c" style="left:436.00px;top:420.30px;height:17.10px;color:#111">11-25-2015 13:04:31</div>
<div class="r" style="left:530.20px;top:420.30px;width:74.80px;height:17.10px;background:#e9e9e9;"></div>
<div class="c" style="left:532.80px;top:420.30px;height:17.10px;color:#111">27d 3h 0m 36s</div>
<div class="r" style="left:606.40px;top:420.30px;width:67.60px;height:17.10px;background:#e9e9e9;"></div>
<div class="c" style="left:608.40px;top:420.30px;height:17.10px;color:#111">1/4</div>
<div class="r" style="left:675.20px;top:420.30px;width:314.00px;height:17.10px;background:#e9e9e9;"></div>
<div class="c" style="left:678.00px;top:420.30px;height:17.10px;color:#111">SSH OK - OpenSSH_6.6.1 (protocol 2.0)</div>
<div class="r" style="left:258.90px;top:438.90px;width:110.40px;height:16.90px;background:#f4f4f4;"></div>
<div class="c" style="left:266.60px;top:438.90px;height:16.90px;color:#4454a4">Swap Usage</div>
<div class="r" style="left:345.2px;top:438.45px;width:18px;height:18px"><svg width="18" height="18" viewBox="0 0 18 18"><rect x="0" y="0" width="18" height="18" fill="#fcfcfc"/><path d="M3.7 0 V18 M7.2 0 V18 M10.7 0 V18 M14.2 0 V18 M0 3.7 H18 M0 7.2 H18 M0 10.7 H18 M0 14.2 H18" stroke="#d2c6cc" stroke-width="1"/><rect x="0.5" y="0.5" width="17" height="17" fill="none" stroke="#505050"/><path d="M0.8 10.7 L4.1 14.3 L7.4 6.6 L10.3 10.9 L14.3 4.3 L17.4 6.2" stroke="#d25a7a" stroke-width="1.2" fill="none" stroke-linejoin="round" opacity="0.85"/></svg></div>
<div class="r" style="left:371.10px;top:439.10px;width:60.90px;height:16.80px;background:#93d571;border:1px solid #7d7d7d;box-sizing:border-box;"></div>
<div class="c" style="left:376.00px;top:438.90px;height:16.90px;color:#000">OK</div>
<div class="r" style="left:433.00px;top:438.90px;width:95.80px;height:16.90px;background:#f4f4f4;"></div>
<div class="c" style="left:436.00px;top:438.90px;height:16.90px;color:#111">11-25-2015 13:03:37</div>
<div class="r" style="left:530.20px;top:438.90px;width:74.80px;height:16.90px;background:#f4f4f4;"></div>
<div class="c" style="left:532.80px;top:438.90px;height:16.90px;color:#111">27d 2h 59m 53s</div>
<div class="r" style="left:606.40px;top:438.90px;width:67.60px;height:16.90px;background:#f4f4f4;"></div>
<div class="c" style="left:608.40px;top:438.90px;height:16.90px;color:#111">1/4</div>
<div class="r" style="left:675.20px;top:438.90px;width:314.00px;height:16.90px;background:#f4f4f4;"></div>
<div class="c" style="left:678.00px;top:438.90px;height:16.90px;color:#111">SWAP OK - 73% free (1498 MB out of 2079 MB)</div>
<div class="r" style="left:258.90px;top:457.30px;width:110.40px;height:17.50px;background:#e9e9e9;"></div>
<div class="c" style="left:266.60px;top:457.30px;height:17.50px;color:#4454a4">Total Processes</div>
<div class="r" style="left:345.2px;top:457.15px;width:18px;height:18px"><svg width="18" height="18" viewBox="0 0 18 18"><rect x="0" y="0" width="18" height="18" fill="#fcfcfc"/><path d="M3.7 0 V18 M7.2 0 V18 M10.7 0 V18 M14.2 0 V18 M0 3.7 H18 M0 7.2 H18 M0 10.7 H18 M0 14.2 H18" stroke="#d2c6cc" stroke-width="1"/><rect x="0.5" y="0.5" width="17" height="17" fill="none" stroke="#505050"/><path d="M0.8 10.7 L4.1 14.3 L7.4 6.6 L10.3 10.9 L14.3 4.3 L17.4 6.2" stroke="#d25a7a" stroke-width="1.2" fill="none" stroke-linejoin="round" opacity="0.85"/></svg></div>
<div class="r" style="left:371.10px;top:457.50px;width:60.90px;height:17.40px;background:#93d571;border:1px solid #7d7d7d;box-sizing:border-box;"></div>
<div class="c" style="left:376.00px;top:457.30px;height:17.50px;color:#000">OK</div>
<div class="r" style="left:433.00px;top:457.30px;width:95.80px;height:17.50px;background:#e9e9e9;"></div>
<div class="c" style="left:436.00px;top:457.30px;height:17.50px;color:#111">11-25-2015 13:03:44</div>
<div class="r" style="left:530.20px;top:457.30px;width:74.80px;height:17.50px;background:#e9e9e9;"></div>
<div class="c" style="left:532.80px;top:457.30px;height:17.50px;color:#111">27d 2h 59m 10s</div>
<div class="r" style="left:606.40px;top:457.30px;width:67.60px;height:17.50px;background:#e9e9e9;"></div>
<div class="c" style="left:608.40px;top:457.30px;height:17.50px;color:#111">1/4</div>
<div class="r" style="left:675.20px;top:457.30px;width:314.00px;height:17.50px;background:#e9e9e9;"></div>
<div class="c" style="left:678.00px;top:457.30px;height:17.50px;color:#111">PROCS OK: 146 processes with STATE = RSZDT</div>
<div class="r" style="left:189.80px;top:478.00px;width:67.80px;height:14.00px;background:#f4f4f4;"></div>
<div class="c" style="left:197.70px;top:478.00px;height:14.00px;color:#4454a4">rasberry-pi</div>
<div class="r" style="left:258.90px;top:478.00px;width:110.40px;height:14.00px;background:#ffe0e1;"></div>
<div class="c" style="left:263.21px;top:478.00px;height:14.00px;color:#4454a4">Current Load</div>
<div class="r" style="left:371.10px;top:478.20px;width:60.90px;height:13.90px;background:#f99292;border:1px solid #7d7d7d;box-sizing:border-box;"></div>
<div class="c" style="left:376.00px;top:478.00px;height:14.00px;color:#000">CRITICAL</div>
<div class="r" style="left:433.00px;top:478.00px;width:95.80px;height:14.00px;background:#ffe0e1;"></div>
<div class="c" style="left:433.90px;top:478.00px;height:14.00px;color:#111">11-25-2015 13:04:12</div>
<div class="r" style="left:530.20px;top:478.00px;width:74.80px;height:14.00px;background:#ffe0e1;"></div>
<div class="c" style="left:530.70px;top:478.00px;height:14.00px;color:#111">0d 1h 9m 31s</div>
<div class="r" style="left:606.40px;top:478.00px;width:67.60px;height:14.00px;background:#ffe0e1;"></div>
<div class="c" style="left:606.30px;top:478.00px;height:14.00px;color:#111">3/3</div>
<div class="r" style="left:675.20px;top:478.00px;width:314.00px;height:14.00px;background:#ffe0e1;"></div>
<div class="c" style="left:675.90px;top:478.00px;height:14.00px;color:#111">(Return code of 255 is out of bounds)</div>
<div class="r" style="left:258.90px;top:493.30px;width:110.40px;height:13.20px;background:#e9e9e9;"></div>
<div class="c" style="left:266.60px;top:493.30px;height:13.20px;color:#4454a4">PING</div>
<div class="r" style="left:371.10px;top:493.50px;width:60.90px;height:13.10px;background:#93d571;border:1px solid #7d7d7d;box-sizing:border-box;"></div>
<div class="c" style="left:376.00px;top:493.30px;height:13.20px;color:#000">OK</div>
<div class="r" style="left:433.00px;top:493.30px;width:95.80px;height:13.20px;background:#e9e9e9;"></div>
<div class="c" style="left:436.00px;top:493.30px;height:13.20px;color:#111">11-25-2015 13:04:20</div>
<div class="r" style="left:530.20px;top:493.30px;width:74.80px;height:13.20px;background:#e9e9e9;"></div>
<div class="c" style="left:532.80px;top:493.30px;height:13.20px;color:#111">0d 0h 1m 23s</div>
<div class="r" style="left:606.40px;top:493.30px;width:67.60px;height:13.20px;background:#e9e9e9;"></div>
<div class="c" style="left:608.40px;top:493.30px;height:13.20px;color:#111">1/3</div>
<div class="r" style="left:675.20px;top:493.30px;width:314.00px;height:13.20px;background:#e9e9e9;"></div>
<div class="c" style="left:678.00px;top:493.30px;height:13.20px;color:#111">PING OK - Packet loss = 0%, RTA = 3.28 ms</div>
<div class="r" style="left:258.90px;top:507.70px;width:110.40px;height:12.90px;background:#ffe0e1;"></div>
<div class="c" style="left:263.21px;top:507.70px;height:12.90px;color:#4454a4">Total Processes</div>
<div class="r" style="left:371.10px;top:507.90px;width:60.90px;height:12.80px;background:#f99292;border:1px solid #7d7d7d;box-sizing:border-box;"></div>
<div class="c" style="left:376.00px;top:507.70px;height:12.90px;color:#000">CRITICAL</div>
<div class="r" style="left:433.00px;top:507.70px;width:95.80px;height:12.90px;background:#ffe0e1;"></div>
<div class="c" style="left:433.90px;top:507.70px;height:12.90px;color:#111">11-25-2015 13:04:27</div>
<div class="r" style="left:530.20px;top:507.70px;width:74.80px;height:12.90px;background:#ffe0e1;"></div>
<div class="c" style="left:530.70px;top:507.70px;height:12.90px;color:#111">0d 1h 9m 16s</div>
<div class="r" style="left:606.40px;top:507.70px;width:67.60px;height:12.90px;background:#ffe0e1;"></div>
<div class="c" style="left:606.30px;top:507.70px;height:12.90px;color:#111">3/3</div>
<div class="r" style="left:675.20px;top:507.70px;width:314.00px;height:12.90px;background:#ffe0e1;"></div>
<div class="c" style="left:675.90px;top:507.70px;height:12.90px;color:#111">(Return code of 255 is out of bounds)</div>
<div class="r" style="left:189.80px;top:523.90px;width:67.80px;height:12.70px;background:#e9e9e9;"></div>
<div class="c" style="left:197.70px;top:523.90px;height:12.70px;color:#4454a4">ubuntu-svr</div>
<div class="r" style="left:258.90px;top:523.90px;width:110.40px;height:12.70px;background:#e9e9e9;"></div>
<div class="c" style="left:266.60px;top:523.90px;height:12.70px;color:#4454a4">Current Load</div>
<div class="r" style="left:371.10px;top:524.10px;width:60.90px;height:12.60px;background:#93d571;border:1px solid #7d7d7d;box-sizing:border-box;"></div>
<div class="c" style="left:376.00px;top:523.90px;height:12.70px;color:#000">OK</div>
<div class="r" style="left:433.00px;top:523.90px;width:95.80px;height:12.70px;background:#e9e9e9;"></div>
<div class="c" style="left:436.00px;top:523.90px;height:12.70px;color:#111">11-25-2015 13:03:51</div>
<div class="r" style="left:530.20px;top:523.90px;width:74.80px;height:12.70px;background:#e9e9e9;"></div>
<div class="c" style="left:532.80px;top:523.90px;height:12.70px;color:#111">0d 0h 54m 52s</div>
<div class="r" style="left:606.40px;top:523.90px;width:67.60px;height:12.70px;background:#e9e9e9;"></div>
<div class="c" style="left:608.40px;top:523.90px;height:12.70px;color:#111">1/3</div>
<div class="r" style="left:675.20px;top:523.90px;width:314.00px;height:12.70px;background:#e9e9e9;"></div>
<div class="c" style="left:678.00px;top:523.90px;height:12.70px;color:#111">OK - load average: 0.01, 0.02, 0.05</div>
<div class="r" style="left:258.90px;top:538.30px;width:110.40px;height:13.40px;background:#f4f4f4;"></div>
<div class="c" style="left:266.60px;top:538.30px;height:13.40px;color:#4454a4">PING</div>
<div class="r" style="left:371.10px;top:538.50px;width:60.90px;height:13.30px;background:#93d571;border:1px solid #7d7d7d;box-sizing:border-box;"></div>
<div class="c" style="left:376.00px;top:538.30px;height:13.40px;color:#000">OK</div>
<div class="r" style="left:433.00px;top:538.30px;width:95.80px;height:13.40px;background:#f4f4f4;"></div>
<div class="c" style="left:436.00px;top:538.30px;height:13.40px;color:#111">11-25-2015 13:03:35</div>
<div class="r" style="left:530.20px;top:538.30px;width:74.80px;height:13.40px;background:#f4f4f4;"></div>
<div class="c" style="left:532.80px;top:538.30px;height:13.40px;color:#111">0d 0h 10m 8s</div>
<div class="r" style="left:606.40px;top:538.30px;width:67.60px;height:13.40px;background:#f4f4f4;"></div>
<div class="c" style="left:608.40px;top:538.30px;height:13.40px;color:#111">1/3</div>
<div class="r" style="left:675.20px;top:538.30px;width:314.00px;height:13.40px;background:#f4f4f4;"></div>
<div class="c" style="left:678.00px;top:538.30px;height:13.40px;color:#111">PING OK - Packet loss = 0%, RTA = 56.91 ms</div>
<div class="r" style="left:258.90px;top:553.20px;width:110.40px;height:13.80px;background:#e9e9e9;"></div>
<div class="c" style="left:266.60px;top:553.20px;height:13.80px;color:#4454a4">Total Processes</div>
<div class="r" style="left:371.10px;top:553.40px;width:60.90px;height:13.70px;background:#93d571;border:1px solid #7d7d7d;box-sizing:border-box;"></div>
<div class="c" style="left:376.00px;top:553.20px;height:13.80px;color:#000">OK</div>
<div class="r" style="left:433.00px;top:553.20px;width:95.80px;height:13.80px;background:#e9e9e9;"></div>
<div class="c" style="left:436.00px;top:553.20px;height:13.80px;color:#111">11-25-2015 13:04:06</div>
<div class="r" style="left:530.20px;top:553.20px;width:74.80px;height:13.80px;background:#e9e9e9;"></div>
<div class="c" style="left:532.80px;top:553.20px;height:13.80px;color:#111">0d 0h 43m 37s</div>
<div class="r" style="left:606.40px;top:553.20px;width:67.60px;height:13.80px;background:#e9e9e9;"></div>
<div class="c" style="left:608.40px;top:553.20px;height:13.80px;color:#111">1/3</div>
<div class="r" style="left:675.20px;top:553.20px;width:314.00px;height:13.80px;background:#e9e9e9;"></div>
<div class="c" style="left:678.00px;top:553.20px;height:13.80px;color:#111">USERS OK - 2 users currently logged in</div>
</div></div></body></html>
